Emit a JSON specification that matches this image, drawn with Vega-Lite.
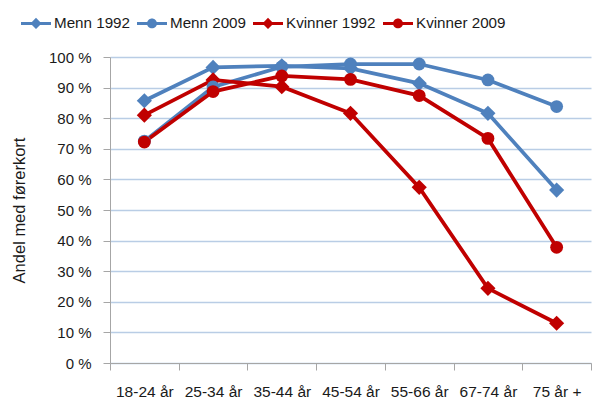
{
  "$schema": "https://vega.github.io/schema/vega-lite/v6.json",
  "width": 481,
  "height": 306,
  "autosize": "none",
  "padding": {"left": 110, "top": 57, "right": 1, "bottom": 38},
  "config": {"font": "Liberation Sans", "view": {"stroke": null}},
  "data": {
    "values": [
      {"alder": "18-24 år", "serie": "Menn 1992", "andel": 85.7},
      {"alder": "25-34 år", "serie": "Menn 1992", "andel": 96.6},
      {"alder": "35-44 år", "serie": "Menn 1992", "andel": 97.1},
      {"alder": "45-54 år", "serie": "Menn 1992", "andel": 96.3},
      {"alder": "55-66 år", "serie": "Menn 1992", "andel": 91.4},
      {"alder": "67-74 år", "serie": "Menn 1992", "andel": 81.6},
      {"alder": "75 år +", "serie": "Menn 1992", "andel": 56.5},
      {"alder": "18-24 år", "serie": "Menn 2009", "andel": 72.5},
      {"alder": "25-34 år", "serie": "Menn 2009", "andel": 90.2},
      {"alder": "35-44 år", "serie": "Menn 2009", "andel": 96.8},
      {"alder": "45-54 år", "serie": "Menn 2009", "andel": 97.7},
      {"alder": "55-66 år", "serie": "Menn 2009", "andel": 97.7},
      {"alder": "67-74 år", "serie": "Menn 2009", "andel": 92.5},
      {"alder": "75 år +", "serie": "Menn 2009", "andel": 83.8},
      {"alder": "18-24 år", "serie": "Kvinner 1992", "andel": 81.0},
      {"alder": "25-34 år", "serie": "Kvinner 1992", "andel": 92.5},
      {"alder": "35-44 år", "serie": "Kvinner 1992", "andel": 90.3},
      {"alder": "45-54 år", "serie": "Kvinner 1992", "andel": 81.6},
      {"alder": "55-66 år", "serie": "Kvinner 1992", "andel": 57.4},
      {"alder": "67-74 år", "serie": "Kvinner 1992", "andel": 24.4},
      {"alder": "75 år +", "serie": "Kvinner 1992", "andel": 13.0},
      {"alder": "18-24 år", "serie": "Kvinner 2009", "andel": 72.2},
      {"alder": "25-34 år", "serie": "Kvinner 2009", "andel": 88.7},
      {"alder": "35-44 år", "serie": "Kvinner 2009", "andel": 93.8},
      {"alder": "45-54 år", "serie": "Kvinner 2009", "andel": 92.7},
      {"alder": "55-66 år", "serie": "Kvinner 2009", "andel": 87.4},
      {"alder": "67-74 år", "serie": "Kvinner 2009", "andel": 73.4},
      {"alder": "75 år +", "serie": "Kvinner 2009", "andel": 37.8}
    ]
  },
  "encoding": {
    "x": {
      "field": "alder",
      "type": "nominal",
      "sort": ["18-24 år", "25-34 år", "35-44 år", "45-54 år", "55-66 år", "67-74 år", "75 år +"],
      "scale": {"type": "band", "paddingInner": 0, "paddingOuter": 0},
      "axis": {
        "title": null,
        "labelAngle": 0,
        "labelFontSize": 15.5,
        "labelColor": "#1a1a1a",
        "labelPadding": 14,
        "labelOverlap": false,
        "labelBound": false,
        "tickBand": "extent",
        "tickSize": 7,
        "tickColor": "#a6a6a6",
        "domainColor": "#a6a6a6",
        "grid": false
      }
    },
    "y": {
      "field": "andel",
      "type": "quantitative",
      "scale": {"domain": [0, 100], "nice": false},
      "axis": {
        "title": "Andel med førerkort",
        "titleFontSize": 16.5,
        "titleFontWeight": "normal",
        "titleColor": "#1a1a1a",
        "titlePadding": 21,
        "values": [0, 10, 20, 30, 40, 50, 60, 70, 80, 90, 100],
        "labelExpr": "datum.value + ' %'",
        "labelFontSize": 15,
        "labelColor": "#1a1a1a",
        "labelPadding": 12,
        "tickSize": 7,
        "tickColor": "#a6a6a6",
        "domainColor": "#a6a6a6",
        "grid": true,
        "gridColor": "#b9cde5",
        "gridWidth": 1.5
      }
    },
    "color": {
      "field": "serie",
      "type": "nominal",
      "scale": {
        "domain": ["Menn 1992", "Menn 2009", "Kvinner 1992", "Kvinner 2009"],
        "range": ["#4f81bd", "#4f81bd", "#c00000", "#c00000"]
      },
      "legend": {
        "orient": "none",
        "legendX": -89,
        "legendY": -49,
        "direction": "horizontal",
        "columns": 4,
        "title": null,
        "symbolSize": 900,
        "symbolStrokeWidth": 0,
        "labelFontSize": 15.2,
        "labelColor": "#1a1a1a",
        "labelOffset": 3,
        "columnPadding": 7,
        "encode": {
          "symbols": {
            "update": {
              "shape": {"signal": "indexof(['Menn 1992','Kvinner 1992'], datum.value) >= 0 ? 'M-1,-0.1L1,-0.1L1,0.1L-1,0.1Z M0,-0.37L0.37,0L0,0.37L-0.37,0Z' : 'M-1,-0.1L1,-0.1L1,0.1L-1,0.1Z M-0.33,0A0.33,0.33 0 1,1 0.33,0A0.33,0.33 0 1,1 -0.33,0Z'"},
              "fill": {"signal": "indexof(['Menn 1992','Menn 2009'], datum.value) >= 0 ? '#4f81bd' : '#c00000'"},
              "fillOpacity": {"value": 1},
              "opacity": {"value": 1},
              "strokeWidth": {"value": 0}
            }
          }
        }
      }
    }
  },
  "layer": [
    {
      "mark": {"type": "line", "strokeWidth": 3.75}
    },
    {
      "transform": [{"filter": {"field": "serie", "oneOf": ["Menn 1992", "Kvinner 1992"]}}],
      "mark": {"type": "point", "filled": true, "opacity": 1, "shape": "diamond", "size": 230}
    },
    {
      "transform": [{"filter": {"field": "serie", "oneOf": ["Menn 2009", "Kvinner 2009"]}}],
      "mark": {"type": "point", "filled": true, "opacity": 1, "shape": "circle", "size": 165}
    }
  ]
}
